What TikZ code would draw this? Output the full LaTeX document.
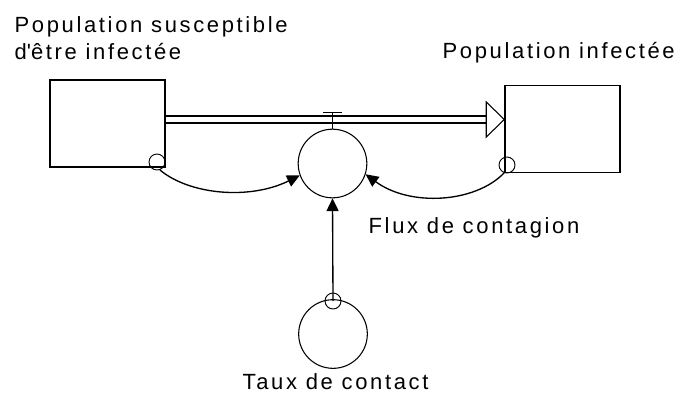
\documentclass[tikz,border=0pt]{standalone}
\usepackage{fontspec}
\setmainfont[LetterSpace=12]{Liberation Sans}
\usetikzlibrary{arrows.meta}

\begin{document}
\begin{tikzpicture}[x=0.75pt, y=-0.75pt, line width=1pt,
    stock/.style = {draw, line width=1.1pt, minimum width=86.25pt, minimum height=65.25pt, inner sep=0pt},
    valve/.style = {circle, draw, line width=0.8pt, minimum size=51.5pt, inner sep=0pt},
    link/.style = {circle, draw, line width=0.7pt, minimum size=12pt, inner sep=0pt},
    info/.style = {-{Triangle[length=9.5pt, width=9pt]}},
    txt/.style = {anchor=base west, inner sep=0pt, align=left, font=\fontsize{16.5pt}{20.25pt}\selectfont}]
    \useasboundingbox (0,0) rectangle (674,394);
    \node [stock] (S) at (107.5,123.5) {};
    \node [stock] (I) at (562.5,129) {};
    \node [valve] (F) at (332.5,163.5) {};
    \node [valve] (T) at (333,334) {};
    \node [link] (cS) at (157,162) {};
    \node [link] (cI) at (507,165) {};
    \node [link] (cT) at (333,301) {};
    % pipe
    \coordinate (p) at (0,119.5);
    \draw [double, line width=1.1pt, double distance=4.1pt] (S.east |- p) -- ([xshift=-13.5pt]I.west |- p);
    \draw [line width=0.8pt, fill=white] (I.west |- p) -- ++(-18,-17.5) -- ++(0,35) -- cycle;
    \draw [line width=0.8pt] (F.north) -- ++(0,-16) coordinate (top);
    \draw [line width=1.1pt] ([xshift=-7pt]top) -- ([xshift=7pt]top);
    % links
    \draw [info] (cS.-70) .. controls (190,195) and (250,200) .. (F.200);
    \draw [info] (cI.250) .. controls (475,203) and (410,207) .. (F.342);
    \draw [info] (cT.center) -- (F.south);
    % labels
    \node [txt] (lS) at (14,59) {Population susceptible\\d\textquotesingle être infectée};
    \node [txt] (lI) at (442,58) {Population infectée};
    \node [txt] (lF) at (368,233) {Flux de contagion};
    \node [txt] (lT) at (242,389) {Taux de contact};
\end{tikzpicture}
\end{document}
